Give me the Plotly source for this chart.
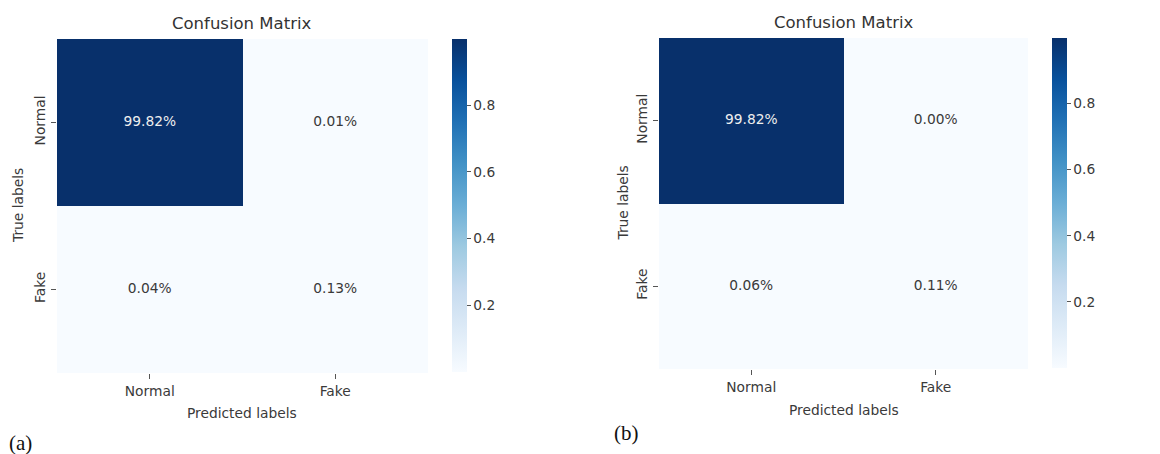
import plotly.graph_objects as go

# Confusion matrices (fractions of all samples), rows = true label, cols = predicted label
labels = ["Normal", "Fake"]
cm_a = [[0.9982, 0.0001],
        [0.0004, 0.0013]]
cm_b = [[0.9982, 0.0000],
        [0.0006, 0.0011]]
cbar_ticks = [0.2, 0.4, 0.6, 0.8]
panel_tags = ["(a)", "(b)"]

W, H = 1160, 454
FONT = "DejaVu Sans"
TXT = "#3a3a3a"
FS = 13.8


def px_x(p):
    return p / W


def px_y(p):
    return 1 - p / H


# pixel geometry of each panel: heatmap box, colorbar box, text anchors
panels = [
    dict(cm=cm_a, hx=(57, 428), hy=(39, 373), cbx=452, cby=(39, 372),
         title_y=24, xlab_y=413, ylab_x=18, tag_x=7, tag_y=443),
    dict(cm=cm_b, hx=(659, 1028), hy=(38, 369), cbx=1052, cby=(38, 368),
         title_y=23, xlab_y=410, ylab_x=622, tag_x=612, tag_y=433),
]

fig = go.Figure()
annotations = []

for i, p in enumerate(panels):
    n = i + 1
    xa = "x" if n == 1 else f"x{n}"
    ya = "y" if n == 1 else f"y{n}"
    ca = "coloraxis" if n == 1 else f"coloraxis{n}"
    cm = p["cm"]
    flat = [v for row in cm for v in row]

    fig.add_trace(go.Heatmap(
        z=cm, x=labels, y=labels, xaxis=xa, yaxis=ya, coloraxis=ca,
        hovertemplate="%{y} / %{x}: %{z:.2%}<extra></extra>",
    ))

    # cell annotations: light text on dark cells, dark text on light cells
    xs, ys, txt, cols = [], [], [], []
    for r, row in enumerate(cm):
        for c, v in enumerate(row):
            xs.append(labels[c])
            ys.append(labels[r])
            txt.append(f"{v * 100:.2f}%")
            cols.append("#eeeeee" if v > (max(flat) + min(flat)) / 2 else TXT)
    fig.add_trace(go.Scatter(
        x=xs, y=ys, text=txt, mode="text", xaxis=xa, yaxis=ya,
        textfont=dict(family=FONT, size=FS, color=cols),
        hoverinfo="skip", showlegend=False,
    ))

    x0, x1 = p["hx"]
    y0, y1 = p["hy"]
    axis_common = dict(
        type="category", showgrid=False, zeroline=False, showline=False,
        ticks="outside", ticklen=5, tickwidth=1, tickcolor="#555",
        tickfont=dict(family=FONT, size=FS, color=TXT),
    )
    fig.layout[f"xaxis{'' if n == 1 else n}"] = dict(
        domain=[px_x(x0), px_x(x1)], anchor=ya, range=[-0.5, 1.5],
        **axis_common)
    fig.layout[f"yaxis{'' if n == 1 else n}"] = dict(
        domain=[px_y(y1), px_y(y0)], anchor=xa, range=[1.5, -0.5],
        tickangle=-90, **axis_common)

    cy0, cy1 = p["cby"]
    fig.layout[ca] = dict(
        colorscale="Blues", cmin=min(flat), cmax=max(flat),
        colorbar=dict(
            x=px_x(p["cbx"]), xanchor="left", xpad=0,
            y=px_y((cy0 + cy1) / 2), yanchor="middle",
            len=cy1 - cy0, lenmode="pixels", thickness=15,
            thicknessmode="pixels", outlinewidth=0, ypad=0,
            tickvals=cbar_ticks, ticks="outside", ticklen=4,
            tickcolor="#555",
            tickfont=dict(family=FONT, size=FS, color=TXT),
        ),
    )

    cx = (x0 + x1) / 2
    annotations += [
        dict(text="Confusion Matrix", x=px_x(cx), y=px_y(p["title_y"]),
             font=dict(family=FONT, size=16.5, color="#333")),
        dict(text="Predicted labels", x=px_x(cx), y=px_y(p["xlab_y"]),
             font=dict(family=FONT, size=FS, color=TXT)),
        dict(text="True labels", x=px_x(p["ylab_x"]),
             y=px_y((y0 + y1) / 2), textangle=-90,
             font=dict(family=FONT, size=FS, color=TXT)),
        dict(text=panel_tags[i], x=px_x(p["tag_x"]), y=px_y(p["tag_y"]),
             xanchor="left", font=dict(family="Liberation Serif", size=21,
                                       color="#111")),
    ]

for a in annotations:
    a.setdefault("xanchor", "center")
    a.update(xref="paper", yref="paper", yanchor="middle", showarrow=False)

fig.update_layout(
    width=W, height=H, margin=dict(l=0, r=0, t=0, b=0),
    paper_bgcolor="white", plot_bgcolor="white",
    annotations=annotations, showlegend=False,
)

fig.write_html("out.html", config={"displayModeBar": False})
